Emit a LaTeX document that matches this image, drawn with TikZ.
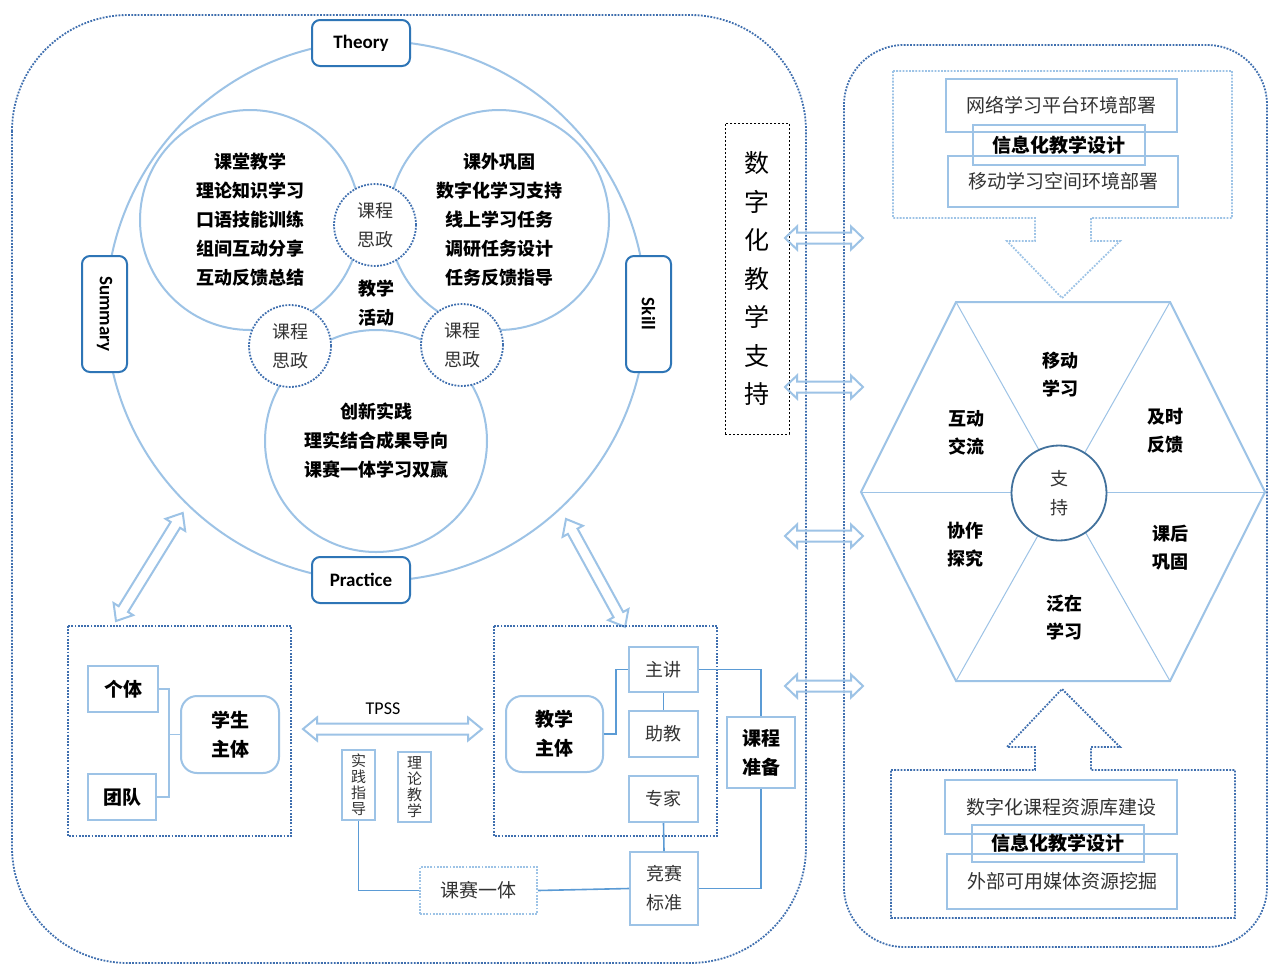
\documentclass[tikz,border=0pt]{standalone}
\usepackage{fontspec}
\setmainfont{Noto Sans CJK SC}
\newfontfamily\en{Carlito}
\usetikzlibrary{calc}
\definecolor{lb}{HTML}{9DC3E6}
\definecolor{mb}{HTML}{5B9BD5}
\definecolor{db}{HTML}{2E75B6}
\definecolor{dotb}{HTML}{3F6FAF}
\definecolor{cdb}{HTML}{41719C}
\definecolor{txg}{HTML}{333333}
\tikzset{
  x=0.5pt, y=-0.5pt,
  dotline/.style={draw=dotb, line width=0.9pt, dash pattern=on 0.9pt off 0.7pt},
  ldotline/.style={draw=lb, line width=0.9pt, dash pattern=on 0.9pt off 0.7pt},
  arrowout/.style={draw=lb, line width=1pt, line join=miter},
  bt/.style={font=\bfseries\fontsize{9}{14.5}\selectfont, align=center, text=black},
  lt/.style={font=\fontsize{9}{14.5}\selectfont, align=center, text=txg},
  keybox/.style={draw=db, line width=1pt, rounded corners=4pt, fill=white,
    font=\en\bfseries\fontsize{9.5}{11}\selectfont, minimum width=49pt, minimum height=23pt, inner sep=0pt},
  ring/.style={circle, draw=lb, line width=1pt, inner sep=0pt},
  szcircle/.style={circle, dotline, fill=white, minimum size=41pt, inner sep=0pt, lt},
  lbox/.style={draw=lb, line width=1pt, inner sep=0pt},
  rbox/.style={draw=lb, line width=1pt, rounded corners=8pt, fill=white, inner sep=0pt,
    font=\bfseries\fontsize{9.5}{14.5}\selectfont, align=center},
  conn/.style={draw=mb, line width=0.8pt},
  vtext/.style={lbox, font=\fontsize{7.5}{8}\selectfont, align=center, text=txg, minimum width=16.5pt, minimum height=35pt},
}
\newcommand\dbarrow[4]{%
  \begin{scope}[shift={#1},rotate=#2]
    \draw[arrowout] (0,0) -- (#4,11.5) -- (#4,5.5) -- (#3-#4,5.5) -- (#3-#4,11.5) -- (#3,0)
      -- (#3-#4,-11.5) -- (#3-#4,-5.5) -- (#4,-5.5) -- (#4,-11.5) -- cycle;
  \end{scope}}
\begin{document}
\begin{tikzpicture}
\fill[white] (0,0) rectangle (1269,965);
\useasboundingbox (0,0) rectangle (1269,965);

% regions
\draw[dotline, rounded corners=58pt] (12,15) rectangle (806,963);
\draw[dotline, rounded corners=30pt] (844,45) rectangle (1267,947);

% big circle and inner circles
\node[ring, minimum size=270pt] (big) at (376,311) {};
\node[ring, minimum size=110pt, bt] (cl) at (250,220) {课堂教学\\理论知识学习\\口语技能训练\\组间互动分享\\互动反馈总结};
\node[ring, minimum size=110pt, bt] (cr) at (499,220) {课外巩固\\数字化学习支持\\线上学习任务\\调研任务设计\\任务反馈指导};
\node[ring, minimum size=111pt, bt] (cb) at (376,441) {创新实践\\理实结合成果导向\\课赛一体学习双赢};
\node[bt] (jxhd) at (376,303) {教学\\活动};
\node[szcircle] (s1) at (375,225) {课程\\思政};
\node[szcircle] (s2) at (290,346) {课程\\思政};
\node[szcircle] (s3) at (462,345) {课程\\思政};

\node[keybox] (th) at (361,43) {\raisebox{-1pt}{Theory}};
\node[keybox] (pr) at (361,580) {\raisebox{-1pt}{Practice}};
\node[keybox, rotate=-90, minimum width=58pt, minimum height=22.5pt] (sm) at (104.5,314) {Summary};
\node[keybox, rotate=-90, minimum width=58pt, minimum height=22.5pt] (sk) at (648.5,314) {Skill};

% diagonal arrows
\coordinate (dal) at (116,621);
\coordinate (dar) at (566,519);
\dbarrow{(dal)}{58.3}{127}{14}
\dbarrow{(dar)}{-61.3}{123}{14}

% bottom-left group
\draw[dotline] (68,626) rectangle (291,836);
\node[lbox, bt, minimum width=35pt, minimum height=23pt, font=\bfseries\fontsize{9.5}{11}\selectfont] (gt) at (123,689) {个体};
\node[lbox, bt, minimum width=34pt, minimum height=23pt, font=\bfseries\fontsize{9.5}{11}\selectfont] (td) at (122,797) {团队};
\node[rbox, minimum width=49pt, minimum height=38.5pt] (xs) at (230,734.5) {学生\\主体};
\draw[conn, draw=lb, line width=0.6pt] (gt.east) -- (169,689) |- (td.east);
\draw[conn, draw=lb, line width=0.6pt] (xs.west) -- (169,734.5);

\node[font=\en\fontsize{9}{10}\selectfont] (tpss) at (383,709) {TPSS};
\coordinate (tpa) at (303,729);
\dbarrow{(tpa)}{0}{179}{14}
\node[vtext] (sjzd) at (358.5,785) {实\\践\\指\\导};
\node[vtext] (llj) at (414.5,787) {理\\论\\教\\学};
\node[ldotline, minimum width=58.5pt, minimum height=23.5pt, inner sep=0pt, lt, font=\fontsize{9.5}{11}\selectfont] (ksyt) at (478.5,890.5) {课赛一体};

% bottom-middle group
\draw[dotline] (494,626) rectangle (717,836);
\node[rbox, minimum width=48.5pt, minimum height=38pt] (jx) at (554.5,734) {教学\\主体};
\node[lbox, lt, minimum width=34.5pt, minimum height=22.5pt] (zj) at (663.5,669.5) {主讲};
\node[lbox, lt, minimum width=34.5pt, minimum height=23pt] (zjiao) at (663.5,734) {助教};
\node[lbox, lt, minimum width=34.5pt, minimum height=23pt] (zjia) at (663.5,799) {专家};
\node[lbox, lt, minimum width=34pt, minimum height=36.5pt] (jsbz) at (664,888.5) {竞赛\\标准};
\node[lbox, bt, minimum width=34pt, minimum height=35.5pt, font=\bfseries\fontsize{9.5}{14.5}\selectfont] (kczb) at (761,752.5) {课程\\准备};
\draw[conn, draw=mb, line width=0.6pt] (jx.east) -- (616,734) |- (zj.west);
\draw[conn, draw=mb, line width=0.6pt] (zj.south) -- (zjiao.north);
\draw[conn] (zjia.south) -- (jsbz.north);
\draw[conn] (zj.east) -| (kczb.north);
\draw[conn] (kczb.south) |- (jsbz.east);
\draw[conn] (sjzd.south) |- (ksyt.west);
\draw[conn] (ksyt.east) -- (jsbz.west);

% middle vertical box
\node[draw=black, line width=0.4pt, dash pattern=on 1.2pt off 0.8pt, minimum width=32pt, minimum height=155.5pt,
  inner sep=0pt, align=center, font=\fontsize{12.5}{19.25}\selectfont] (szh) at (757,278.5) {数\\字\\化\\教\\学\\支\\持};

% horizontal double arrows
\coordinate (ha1) at (785,238);
\coordinate (ha2) at (785,387);
\coordinate (ha3) at (785,536);
\coordinate (ha4) at (785,686);
\dbarrow{(ha1)}{0}{78}{12}
\dbarrow{(ha2)}{0}{78}{12}
\dbarrow{(ha3)}{0}{78}{12}
\dbarrow{(ha4)}{0}{78}{12}

% right: top arrow box
\draw[ldotline] (893,71) -- (1232,71) -- (1232,218) -- (1091,218) -- (1091,241) -- (1120,241)
  -- (1062,298) -- (1007,241) -- (1035,241) -- (1035,218) -- (893,218) -- cycle;
\node[lbox, lt, minimum width=115.5pt, minimum height=26.5pt, font=\fontsize{9.5}{11}\selectfont] (wl) at (1061.5,105.5) {网络学习平台环境部署};
\node[lbox, lt, minimum width=115pt, minimum height=25.5pt, font=\fontsize{9.5}{11}\selectfont] (yd) at (1063,181.5) {移动学习空间环境部署};
\node[lbox, bt, minimum width=86pt, minimum height=20pt, font=\bfseries\fontsize{9.5}{11}\selectfont] (xx1) at (1059,145) {信息化教学设计};

% right: bottom arrow box
\draw[dotline] (891,770) -- (1035,770) -- (1035,747) -- (1007,747) -- (1062,689) -- (1120,747)
  -- (1091,747) -- (1091,770) -- (1235,770) -- (1235,918) -- (891,918) -- cycle;
\node[lbox, lt, minimum width=116pt, minimum height=27pt, font=\fontsize{9.5}{11}\selectfont] (szkc) at (1061,807) {数字化课程资源库建设};
\node[lbox, lt, minimum width=115pt, minimum height=27.5pt, font=\fontsize{9.5}{11}\selectfont] (wb) at (1062,881.5) {外部可用媒体资源挖掘};
\node[lbox, bt, minimum width=86pt, minimum height=18.5pt, font=\bfseries\fontsize{9.5}{11}\selectfont] (xx2) at (1058,843) {信息化教学设计};

% hexagon
\coordinate (hc) at (1062.5,492);
\coordinate (h1) at (956,302);
\coordinate (h2) at (1170,302);
\coordinate (h3) at (1265,492);
\coordinate (h4) at (1170,681);
\coordinate (h5) at (956,681);
\coordinate (h6) at (861,492);
\foreach \i in {1,...,6} \draw[lb, line width=0.5pt] (hc) -- (h\i);
\draw[lb, line width=1pt] (h1) -- (h2) -- (h3) -- (h4) -- (h5) -- (h6) -- cycle;
\node[circle, draw=cdb, line width=0.9pt, fill=white, minimum size=47.5pt, inner sep=0pt, lt, font=\fontsize{9}{14}\selectfont] (zc) at (1059,493) {\raisebox{-2pt}{\shortstack{支\\[3pt]持}}};
\node[bt, font=\bfseries\fontsize{9}{14}\selectfont] (t1) at (1060,375) {移动\\学习};
\node[bt, font=\bfseries\fontsize{9}{14}\selectfont] (t2) at (966,433) {互动\\交流};
\node[bt, font=\bfseries\fontsize{9}{14}\selectfont] (t3) at (1165,431) {及时\\反馈};
\node[bt, font=\bfseries\fontsize{9}{14}\selectfont] (t4) at (965,545) {协作\\探究};
\node[bt, font=\bfseries\fontsize{9}{14}\selectfont] (t5) at (1170,548) {课后\\巩固};
\node[bt, font=\bfseries\fontsize{9}{14}\selectfont] (t6) at (1064,618) {泛在\\学习};
\end{tikzpicture}
\end{document}
